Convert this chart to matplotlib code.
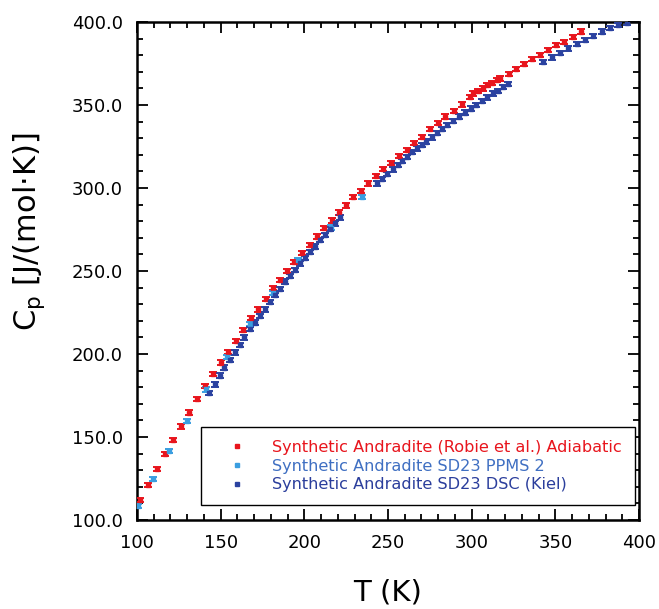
import matplotlib.pyplot as plt
from matplotlib.lines import Line2D
from matplotlib.ticker import MultipleLocator, FormatStrFormatter

# Synthetic Andradite (Robie et al.) Adiabatic
robie_T = [101.8, 106.4, 111.8, 116.7, 121.3, 126.3, 130.9, 136.0, 140.6, 145.6,
           150.0, 154.2, 159.0, 163.5, 168.1, 172.5, 176.9, 181.1, 185.5, 189.8,
           194.0, 198.8, 203.4, 207.4, 212.0, 216.4, 220.5, 224.8, 229.3, 233.8,
           238.3, 242.8, 247.2, 251.8, 256.6, 261.2, 265.8, 270.5, 275.1, 279.7,
           284.3, 289.5, 294.1, 299.0, 301.0, 304.0, 306.6, 309.0, 312.0, 315.0,
           317.0, 322.0, 326.5, 331.3, 335.9, 340.9, 345.5, 350.4, 355.4, 360.4,
           365.2]
robie_Cp = [112.0, 121.3, 130.7, 139.8, 148.2, 156.4, 164.7, 172.9, 180.7, 187.8,
            194.8, 201.4, 208.0, 214.5, 221.5, 226.9, 233.3, 239.6, 244.6, 250.2,
            255.6, 260.7, 265.7, 270.7, 275.7, 280.5, 285.2, 289.5, 294.4, 298.2,
            302.8, 307.2, 311.3, 315.2, 319.3, 322.9, 326.9, 330.9, 335.4, 339.3,
            343.0, 346.2, 350.3, 355.0, 357.0, 358.6, 360.0, 362.0, 363.1, 365.0,
            366.0, 368.7, 371.8, 374.8, 377.5, 380.1, 383.1, 386.1, 388.1, 391.1,
            394.2]

# Synthetic Andradite SD23 PPMS 2
ppms_T = [100.8, 109.4, 119.3, 129.7, 141.2, 153.6, 167.5, 181.5, 196.5, 216.0, 234.5]
ppms_Cp = [108.4, 124.7, 141.6, 159.8, 178.7, 198.4, 218.1, 236.6, 256.5, 276.3, 294.6]

# Synthetic Andradite SD23 DSC (Kiel)
dsc_T = [143.2, 146.6, 149.4, 152.2, 155.6, 158.6, 161.6, 164.1, 167.5, 170.5,
         173.5, 176.5, 179.5, 182.5, 185.5, 188.5, 191.5, 194.4, 197.4, 200.4,
         203.4, 206.4, 209.4, 212.4, 215.4, 218.4, 221.3,
         243.3, 246.3, 249.6, 252.8, 255.8, 258.2, 261.2, 264.2, 267.2, 270.2,
         272.7, 276.1, 279.1, 282.1, 285.1, 289.1, 292.7, 296.1, 299.5, 302.6,
         306.0, 309.4, 312.6, 315.6, 318.6, 321.6,
         342.9, 347.9, 352.8, 357.8, 362.8, 367.8, 372.7, 377.8, 382.7, 387.7, 392.7]
dsc_Cp = [176.7, 181.7, 187.0, 191.8, 196.4, 201.0, 205.4, 210.0, 214.9, 218.9,
          222.9, 226.9, 231.5, 235.5, 239.0, 243.6, 247.0, 250.6, 254.6, 258.0,
          261.5, 264.7, 268.7, 271.7, 275.5, 278.7, 282.3,
          302.8, 305.5, 308.3, 311.2, 314.0, 316.3, 318.8, 321.6, 323.8, 326.0,
          328.0, 330.5, 333.0, 335.5, 338.0, 340.5, 343.0, 345.4, 347.8, 350.0,
          352.6, 354.6, 357.0, 358.6, 360.7, 362.7,
          376.1, 378.7, 381.5, 384.1, 386.6, 389.2, 391.6, 394.2, 396.2, 398.2, 399.6]

cp_err = 1.3

series = [
    ('Synthetic Andradite (Robie et al.) Adiabatic', robie_T, robie_Cp, '#e8151d', '#e8151d'),
    ('Synthetic Andradite SD23 PPMS 2', ppms_T, ppms_Cp, '#3a9ee0', '#3f6fc2'),
    ('Synthetic Andradite SD23 DSC (Kiel)', dsc_T, dsc_Cp, '#2b42a0', '#2b3e9c'),
]

fig = plt.figure(figsize=(6.59, 6.09), dpi=100)
ax = fig.add_axes([0.2079, 0.1461, 0.7618, 0.8178])

for label, T, Cp, color, text_color in series:
    ax.errorbar(T, Cp, yerr=cp_err, fmt='s', color=color, markersize=2.3,
                elinewidth=1.4, capsize=2.8, capthick=1.4, zorder=3)

ax.set_xlim(100, 400)
ax.set_ylim(100, 400)
ax.xaxis.set_major_locator(MultipleLocator(50))
ax.xaxis.set_minor_locator(MultipleLocator(10))
ax.yaxis.set_major_locator(MultipleLocator(50))
ax.yaxis.set_minor_locator(MultipleLocator(10))
ax.yaxis.set_major_formatter(FormatStrFormatter('%.1f'))
ax.tick_params(which='both', direction='in', top=True, right=True, width=1.3)
ax.tick_params(which='major', length=8, labelsize=13)
ax.tick_params(which='minor', length=4)
ax.tick_params(axis='x', which='major', pad=10)
ax.tick_params(axis='y', which='major', pad=10)
for s in ax.spines.values():
    s.set_linewidth(1.8)

ax.set_xlabel('T (K)', fontsize=21, labelpad=19)
ax.set_ylabel('C$_\\mathregular{p}$ [J/(mol·K)]', fontsize=22)
ax.yaxis.set_label_coords(-0.179, 0.578)

handles = [Line2D([], [], marker='s', linestyle='none', color=c, markersize=2.5)
           for _, _, _, c, _ in series]
leg = ax.legend(handles, [s[0] for s in series], loc='lower right',
                bbox_to_anchor=(0.992, 0.03), borderaxespad=0, fontsize=11.6,
                fancybox=False, framealpha=1, edgecolor='black',
                handlelength=2.87, handletextpad=0.73, labelspacing=0.22,
                borderpad=0.8)
leg.get_frame().set_linewidth(1.0)
for text, s in zip(leg.get_texts(), series):
    text.set_color(s[4])

fig.savefig('out.png', dpi=100)
